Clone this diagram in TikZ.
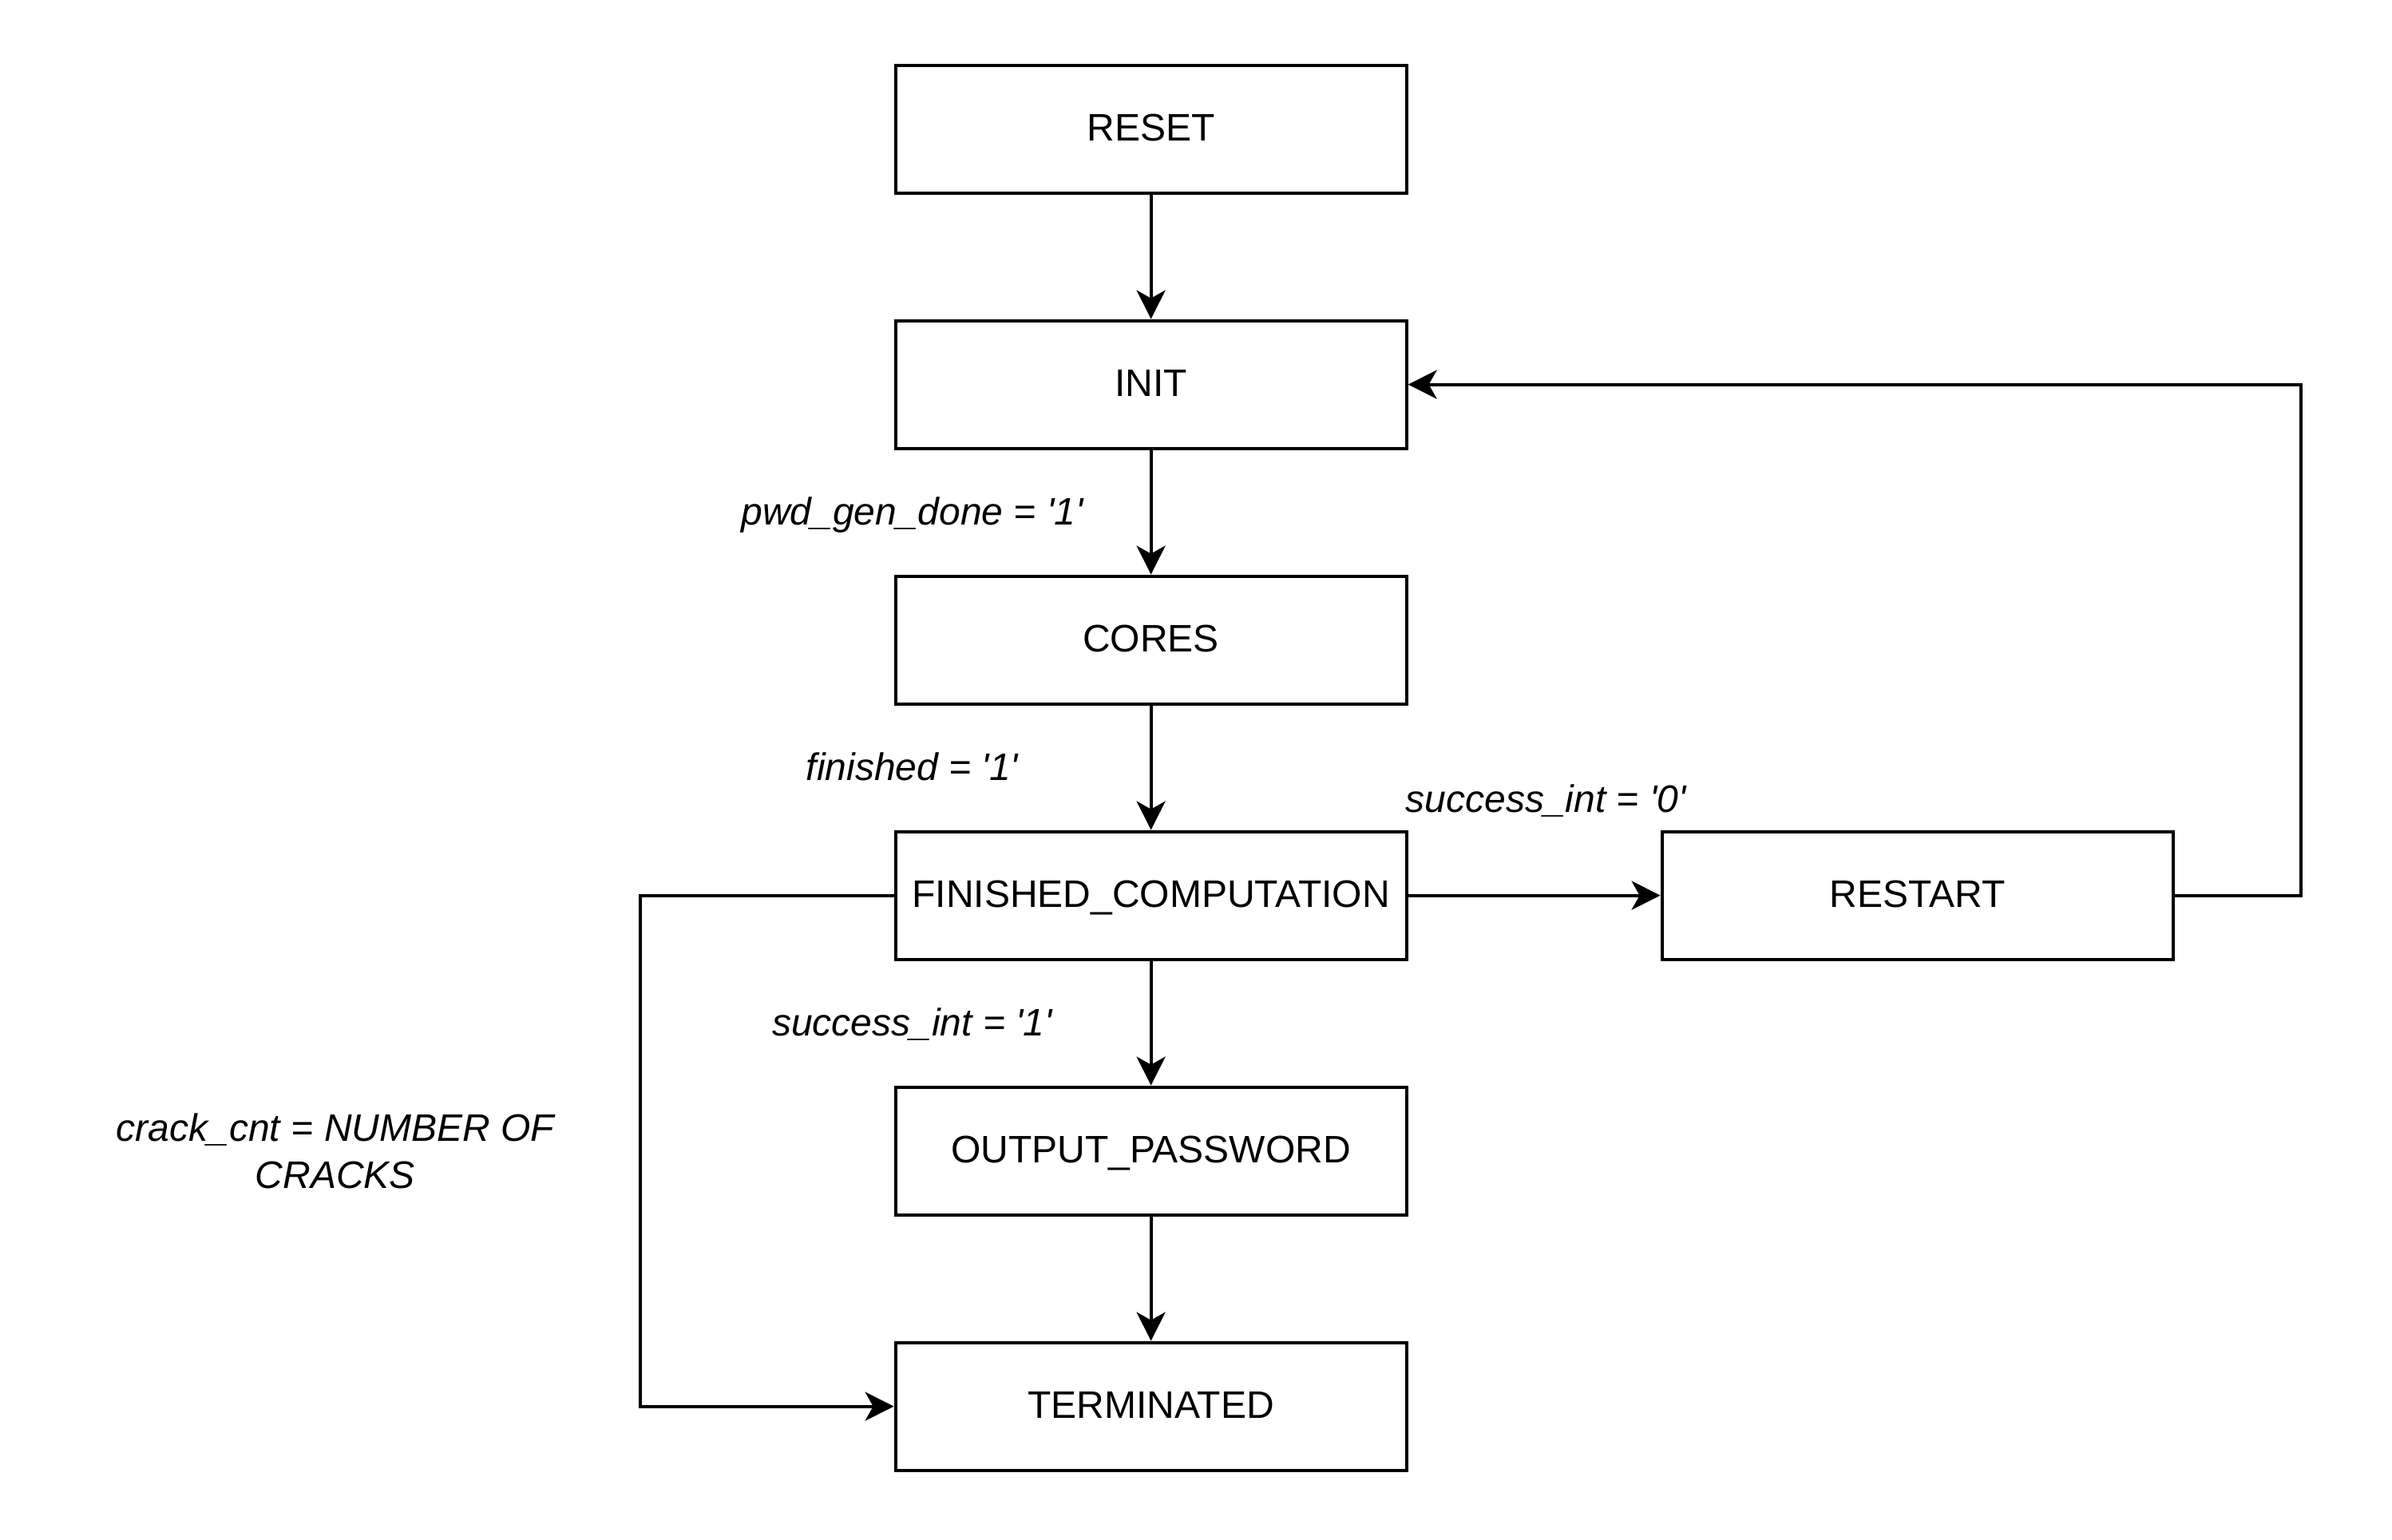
\documentclass[tikz,border=0pt]{standalone}
\usepackage{fontspec}
\setmainfont{Liberation Sans}
\usetikzlibrary{arrows.meta}
\newcommand{\sq}{\textquotesingle}
\begin{document}
\begin{tikzpicture}[x=1pt,y=1pt,
  state/.style={draw, line width=1pt, minimum width=160pt, minimum height=40pt,
    inner sep=0pt, font=\fontsize{12}{14.4}\selectfont, text height=7.6pt, text depth=0pt},
  cond/.style={inner sep=0pt, font=\fontsize{12}{14.4}\selectfont\itshape, text height=8.6pt, text depth=0pt},
  conn/.style={line width=1pt, -{Stealth[length=9pt, width=9pt, inset=2.5pt]}}]
\useasboundingbox (0,0) rectangle (749,-482);
\node[state] (reset) at (360.4,-40.4) {RESET};
\node[state] (init) at (360.4,-120.4) {INIT};
\node[state] (cores) at (360.4,-200.4) {CORES};
\node[state] (fin) at (360.4,-280.4) {FINISHED\_COMPUTATION};
\node[state] (out) at (360.4,-360.4) {OUTPUT\_PASSWORD};
\node[state] (term) at (360.4,-440.4) {TERMINATED};
\node[state] (restart) at (600.4,-280.4) {RESTART};
\coordinate (rc) at (720.4,-120.4);
\coordinate (lc) at (200.4,-440.4);
\draw[conn] (reset) -- (init);
\draw[conn] (init) -- (cores);
\draw[conn] (cores) -- (fin);
\draw[conn] (fin) -- (out);
\draw[conn] (out) -- (term);
\draw[conn] (fin) -- (restart);
\draw[conn] (restart.east) -| (rc) -- (init.east);
\draw[conn] (fin.west) -| (lc) -- (term.west);
\node[cond] (l1) at (285.6,-160) {pwd\_gen\_done = \sq1\sq};
\node[cond] (l2) at (285.6,-240) {finished = \sq1\sq};
\node[cond] (l3) at (484,-250) {success\_int = \sq0\sq};
\node[cond] (l4) at (285.6,-320) {success\_int = \sq1\sq};
\node[inner sep=0pt, align=center, font=\fontsize{12}{14.8}\selectfont\itshape] (l5) at (105,-360.4) {crack\_cnt = NUMBER OF\\CRACKS};
\end{tikzpicture}
\end{document}
